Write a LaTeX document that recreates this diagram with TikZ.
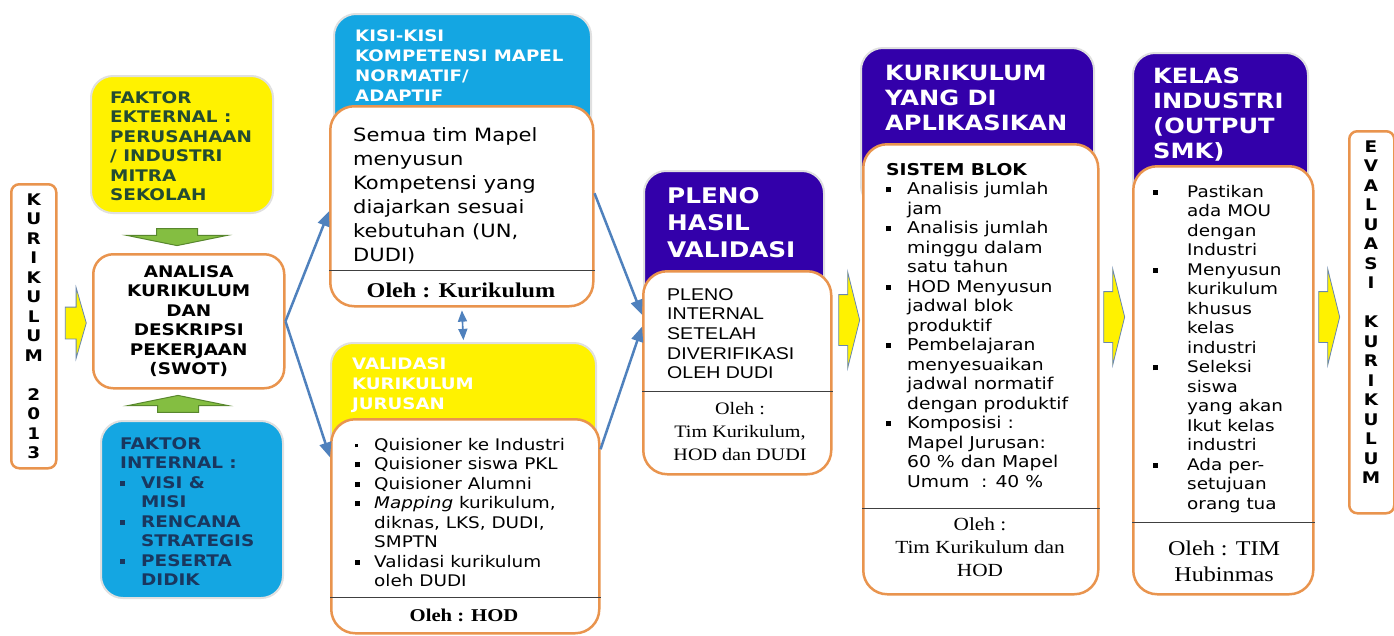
\documentclass[tikz,border=0pt]{standalone}
\usepackage{fontspec}
\setmainfont{Liberation Serif}
\newfontfamily\verd[FakeStretch=1.15]{DejaVu Sans}
\newfontfamily\arialf[FakeStretch=1.15]{Liberation Sans}
\newfontfamily\tnr[FakeStretch=1.15]{Liberation Serif}
\usetikzlibrary{arrows,shapes.arrows}

\definecolor{lineorange}{RGB}{233,148,78}
\definecolor{skyfill}{RGB}{20,166,226}
\definecolor{violetfill}{RGB}{51,0,170}
\definecolor{leafgreen}{RGB}{132,190,65}
\definecolor{leafdark}{RGB}{88,135,45}
\definecolor{steelarrow}{RGB}{79,129,189}
\definecolor{yellowedge}{RGB}{105,135,175}
\definecolor{mossink}{RGB}{35,75,50}
\definecolor{navyink}{RGB}{25,55,95}

\newcommand{\fs}[2]{\fontsize{#1}{#2}\selectfont}
\newcommand{\bitem}[1]{\makebox[#1][l]{\rule[2.5pt]{5pt}{5pt}}}

\tikzset{
  colbox/.style={draw=black!12, line width=2pt, rounded corners=22pt, anchor=north west, inner sep=0pt},
  whitebox/.style={draw=lineorange, line width=2.5pt, fill=white, rounded corners=24pt, anchor=north west, inner sep=0pt},
  txt/.style={anchor=north west, inner sep=0pt, align=left},
  headtext/.style={txt, text=white},
  oleh/.style={inner sep=0pt, align=center},
  vert/.style={inner sep=0pt, align=center, font={\verd\bfseries\fs{16}{19.5}}},
  divider/.style={draw=black!75, line width=1pt},
  yarrow/.style={single arrow, draw=yellowedge, fill=yellow, line width=0.8pt, inner xsep=0pt, minimum height=21pt},
  garrow/.style={single arrow, draw=leafdark, fill=leafgreen, line width=1pt, inner xsep=0pt, inner ysep=20pt,
    minimum height=17pt, single arrow head extend=30pt, single arrow tip angle=157, rotate=#1},
}

\begin{document}
\begin{tikzpicture}[x=1pt,y=-1pt]
\useasboundingbox[fill=white] (0,0) rectangle (1394,635);

% left column
\node[whitebox, rounded corners=8pt, minimum width=45, minimum height=284] (kur) at (10,183) {};
\node[vert] (kurtext) at (kur.center) {K\\U\\R\\I\\K\\U\\L\\U\\M\\ \\2\\0\\1\\3};
\node[yarrow, inner ysep=15.5pt, single arrow head extend=19.5pt, single arrow tip angle=148] (arr1) at (73.5,323) {};

\node[colbox, fill=yellow, minimum width=182, minimum height=137] (ekst) at (90,75) {};
\node[txt, text=mossink, font={\verd\bfseries\fs{16}{19.5}}] (eksttext) at (110,91)
  {FAKTOR\\EKTERNAL :\\PERUSAHAAN\\/ INDUSTRI\\MITRA\\SEKOLAH};
\node[garrow=-90] (gdown) at (177,235) {};

\node[whitebox, rounded corners=20pt, minimum width=191, minimum height=134, align=center,
  font={\verd\bfseries\fs{16}{19.5}}] (analisa) at (92,253)
  {ANALISA\\KURIKULUM\\DAN\\DESKRIPSI\\PEKERJAAN\\(SWOT)};
\node[garrow=90] (gup) at (178,406) {};

\node[colbox, fill=skyfill, minimum width=182, minimum height=177] (intern) at (100,420) {};
\node[txt, text=navyink, font={\verd\bfseries\fs{16}{19.5}}] (interntext) at (120,437)
  {FAKTOR\\INTERNAL :\\\bitem{21pt}VISI \&\\\hspace*{21pt}MISI\\\bitem{21pt}RENCANA\\
   \hspace*{21pt}STRATEGIS\\\bitem{21pt}PESERTA\\\hspace*{21pt}DIDIK};

% kisi-kisi and validasi
\node[colbox, fill=skyfill, minimum width=257, minimum height=200] (kisihead) at (333,13) {};
\node[headtext, font={\verd\bfseries\fs{15.8}{20}}] (kisititle) at (355,30)
  {KISI-KISI\\KOMPETENSI MAPEL\\NORMATIF/\\ADAPTIF};
\node[whitebox, minimum width=263, minimum height=200] (semuabody) at (329,105) {};
\node[txt, font={\verd\fs{18.3}{24}}] (semuatext) at (353,127)
  {Semua tim Mapel\\menyusun\\Kompetensi yang\\diajarkan sesuai\\kebutuhan (UN,\\DUDI)};
\draw[divider] (semuabody.west |- 0,270) -- (semuabody.east |- 0,270);
\node[oleh, font={\tnr\bfseries\fs{21}{24}}] (semuaoleh) at (461,290) {Oleh : Kurikulum};

\node[colbox, fill=yellow, minimum width=265, minimum height=150] (valhead) at (330,342) {};
\node[headtext, font={\verd\bfseries\fs{15.8}{20}}] (valtitle) at (352,358)
  {VALIDASI\\KURIKULUM\\JURUSAN};
\node[whitebox, minimum width=268, minimum height=214] (valbody) at (330,418) {};
\node[txt, font={\verd\fs{16}{19.5}}] (vallist) at (355,438)
  {\makebox[19pt][l]{\rule[3pt]{3pt}{3pt}}Quisioner ke Industri\\
   \bitem{19pt}Quisioner siswa PKL\\
   \bitem{19pt}Quisioner Alumni\\
   \bitem{19pt}\textit{Mapping} kurikulum,\\
   \hspace*{19pt}diknas, LKS, DUDI,\\
   \hspace*{19pt}SMPTN\\
   \bitem{19pt}Validasi kurikulum\\
   \hspace*{19pt}oleh DUDI};
\draw[divider] (valbody.west |- 0,597) -- (valbody.east |- 0,597);
\node[oleh, font={\tnr\bfseries\fs{18}{22}}] (valoleh) at (464,615) {Oleh : HOD};

% pleno
\node[colbox, fill=violetfill, minimum width=180, minimum height=150] (plenohead) at (643,170) {};
\node[headtext, font={\verd\bfseries\fs{21.5}{27}}] (plenotitle) at (667,187) {PLENO\\HASIL\\VALIDASI};
\node[whitebox, minimum width=188, minimum height=203] (plenobody) at (642,270) {};
\node[txt, font={\arialf\fs{17}{19.7}}] (plenotext) at (667,288)
  {PLENO\\INTERNAL\\SETELAH\\DIVERIFIKASI\\OLEH DUDI};
\draw[divider] (plenobody.west |- 0,391) -- (plenobody.east |- 0,391);
\node[oleh, font={\tnr\fs{17.5}{23}}] (plenooleh) at (740,432) {Oleh :\\Tim Kurikulum,\\HOD dan DUDI};
\node[yarrow, inner ysep=25pt, single arrow head extend=22.5pt, single arrow tip angle=152] (arr2) at (846,320) {};

% kurikulum yang di aplikasikan
\node[colbox, fill=violetfill, minimum width=233, minimum height=160] (aplhead) at (860,47) {};
\node[headtext, font={\verd\bfseries\fs{21}{25}}] (apltitle) at (885,65) {KURIKULUM\\YANG DI\\APLIKASIKAN};
\node[whitebox, minimum width=235, minimum height=450] (aplbody) at (862,143) {};
\node[txt, font={\verd\fs{16.3}{19.5}}] (apllist) at (886,163)
  {\textbf{SISTEM BLOK}\\
   \bitem{21pt}Analisis jumlah\\\hspace*{21pt}jam\\
   \bitem{21pt}Analisis jumlah\\\hspace*{21pt}minggu dalam\\\hspace*{21pt}satu tahun\\
   \bitem{21pt}HOD Menyusun\\\hspace*{21pt}jadwal blok\\\hspace*{21pt}produktif\\
   \bitem{21pt}Pembelajaran\\\hspace*{21pt}menyesuaikan\\\hspace*{21pt}jadwal normatif\\
   \hspace*{21pt}dengan produktif\\
   \bitem{21pt}Komposisi :\\\hspace*{21pt}Mapel Jurusan:\\\hspace*{21pt}60 \% dan Mapel\\
   \hspace*{21pt}Umum~~: 40 \%};
\draw[divider] (aplbody.west |- 0,508) -- (aplbody.east |- 0,508);
\node[oleh, font={\tnr\fs{18.5}{23}}] (aploleh) at (980,547) {Oleh :\\Tim Kurikulum dan\\HOD};
\node[yarrow, inner ysep=25pt, single arrow head extend=22.5pt, single arrow tip angle=152] (arr3) at (1111,317) {};

% kelas industri
\node[colbox, fill=violetfill, minimum width=175, minimum height=150] (kelashead) at (1132,52) {};
\node[headtext, font={\verd\bfseries\fs{21}{25}}] (kelastitle) at (1153,68) {KELAS\\INDUSTRI\\(OUTPUT\\SMK)};
\node[whitebox, minimum width=180, minimum height=428] (kelasbody) at (1132,165) {};
\node[txt, font={\verd\fs{16}{19.5}}] (kelaslist) at (1153,185)
  {\bitem{34pt}Pastikan\\\hspace*{34pt}ada MOU\\\hspace*{34pt}dengan\\\hspace*{34pt}Industri\\
   \bitem{34pt}Menyusun\\\hspace*{34pt}kurikulum\\\hspace*{34pt}khusus\\\hspace*{34pt}kelas\\
   \hspace*{34pt}industri\\
   \bitem{34pt}Seleksi\\\hspace*{34pt}siswa\\\hspace*{34pt}yang akan\\\hspace*{34pt}Ikut kelas\\
   \hspace*{34pt}industri\\
   \bitem{34pt}Ada per-\\\hspace*{34pt}setujuan\\\hspace*{34pt}orang tua};
\draw[divider] (kelasbody.west |- 0,522) -- (kelasbody.east |- 0,522);
\node[oleh, font={\tnr\fs{21}{26}}] (kelasoleh) at (1224,561) {Oleh : TIM\\Hubinmas};
\node[yarrow, inner ysep=25pt, single arrow head extend=22.5pt, single arrow tip angle=152] (arr4) at (1326,317) {};

% evaluasi
\node[whitebox, rounded corners=8pt, minimum width=45, minimum height=382] (eval) at (1348,130) {};
\node[vert] (evaltext) at (1371,312) {E\\V\\A\\L\\U\\A\\S\\I\\ \\K\\U\\R\\I\\K\\U\\L\\U\\M};

\begin{scope}[>=triangle 45]
  \draw[steelarrow, line width=2.5pt, ->] (analisa.east) -- ([yshift=-5pt]semuabody.west);
  \draw[steelarrow, line width=2.5pt, ->] (analisa.east) -- ([yshift=69pt]valbody.west);
  \draw[steelarrow, line width=2.5pt, ->] ([yshift=13pt]semuabody.east) -- ([yshift=58pt]plenobody.west);
  \draw[steelarrow, line width=2.5pt, ->] ([yshift=77pt]valbody.east) -- ([yshift=46pt]plenobody.west);
  \draw[steelarrow, line width=1.6pt, <->, shorten <=3pt, shorten >=2pt] (semuabody.south) -- (valhead.north);
\end{scope}
\end{tikzpicture}
\end{document}
